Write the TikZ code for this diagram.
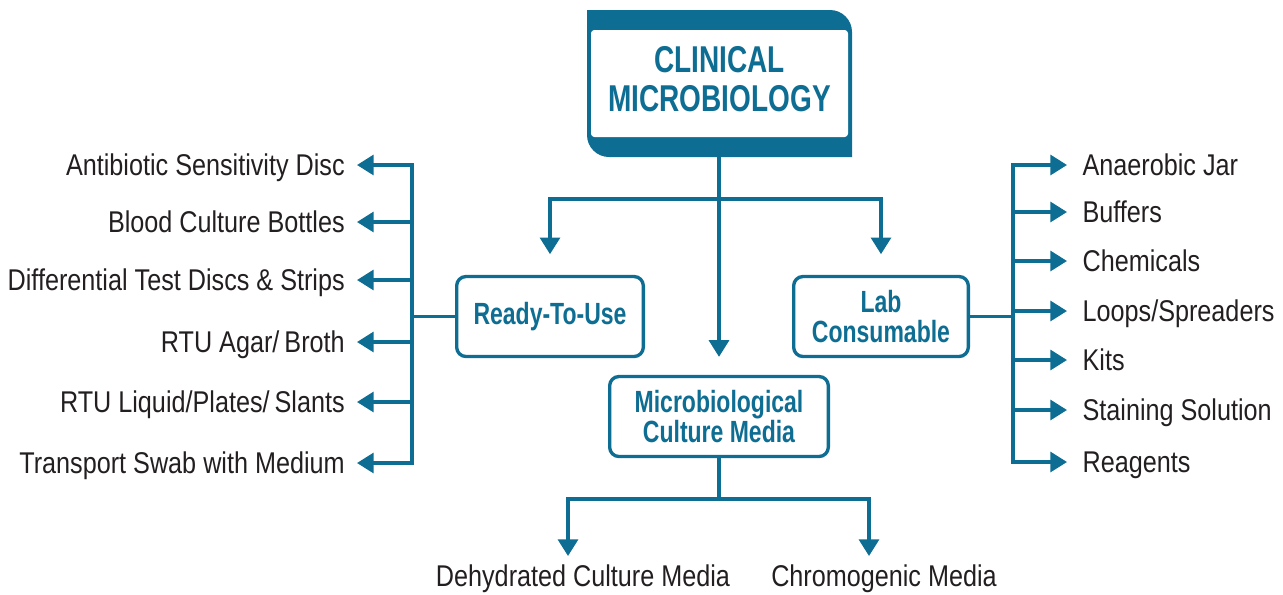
\documentclass[tikz,border=0pt]{standalone}
\usepackage{fontspec}
\setmainfont{Liberation Sans}[FakeStretch=0.84]
\newfontfamily\bcond{Liberation Sans}[FakeStretch=0.75]
\usetikzlibrary{arrows.meta}
\definecolor{cblue}{HTML}{0E6D92}
\definecolor{tgray}{HTML}{231F20}
\begin{document}
\begin{tikzpicture}[x=0.75pt,y=-0.75pt,
  conn/.style={cblue, line width=2.4pt},
  arr/.style={conn, -{Triangle[width=15pt,length=12.5pt]}},
  box/.style={draw=cblue, line width=2.5pt, rounded corners=7pt, fill=white, text=cblue,
    font=\bcond\bfseries\fontsize{23}{22}\selectfont, align=center, minimum height=60pt, inner sep=0pt},
  item/.style={text=tgray, font=\fontsize{22.5}{26}\selectfont, text height=16.1pt, text depth=0pt, inner ysep=0pt},
  litem/.style={item, anchor=east, inner xsep=9pt},
  ritem/.style={item, anchor=west, inner xsep=11.5pt},
  bitem/.style={item, inner ysep=6.75pt, inner xsep=0pt},
  titletext/.style={text=cblue, font=\bcond\bfseries\fontsize{28}{29.25}\selectfont, align=center, inner sep=0pt}
]
\useasboundingbox (0,0) rectangle (1283,594);
% title box
\node[minimum width=198.75pt, minimum height=110.25pt, inner sep=0pt] (top) at (719,83.5) {};
\fill[cblue] (587,10) -- (830,10) arc[start angle=90,end angle=0,radius=16.5pt]
  -- (852,157) -- (609,157) arc[start angle=270,end angle=180,radius=16.5pt] -- cycle;
\fill[white, rounded corners=2.5pt] (591,30) rectangle (848,137);
\node[titletext] (title) at (719.5,79.5) {CLINICAL\\MICROBIOLOGY};
% second level boxes
\node[box, minimum width=140pt] (rtu) at (550,316.5) {Ready-To-Use};
\node[box, minimum width=131pt] (lab) at (881,316.5) {Lab\\Consumable};
\node[box, minimum width=164pt] (micro) at (719,416.5) {Microbiological\\Culture Media};
% top connectors
\coordinate (tj) at (719,199);
\draw[arr, shorten >=13.5pt] (top.south) -- (micro.north);
\draw[arr, shorten >=15.5pt] (tj) -| (rtu.north);
\draw[arr, shorten >=15.5pt] (tj) -| (lab.north);
% left items
\node[litem] (l1) at (357,165) {Antibiotic Sensitivity Disc};
\node[litem] (l2) at (357,222) {Blood Culture Bottles};
\node[litem] (l3) at (357,280) {Differential Test Discs \& Strips};
\node[litem] (l4) at (357,342) {RTU Agar/\,Broth};
\node[litem] (l5) at (357,402) {RTU Liquid/Plates/\,Slants};
\node[litem] (l6) at (357,463) {Transport Swab with Medium};
\coordinate (lb) at (412,316.5);
\draw[conn, line cap=rect] (l1.east -| lb) -- (l6.east -| lb);
\draw[conn] (rtu.west) -- (lb);
\foreach \n in {l1,l2,l3,l4,l5,l6}{\draw[arr] (\n.east -| lb) -- (\n.east);}
% right items
\node[ritem] (r1) at (1067,165) {Anaerobic Jar};
\node[ritem] (r2) at (1067,212) {Buffers};
\node[ritem] (r3) at (1067,261) {Chemicals};
\node[ritem] (r4) at (1067,311) {Loops/Spreaders};
\node[ritem] (r5) at (1067,360) {Kits};
\node[ritem] (r6) at (1067,410) {Staining Solution};
\node[ritem] (r7) at (1067,462) {Reagents};
\coordinate (rb) at (1013,316.5);
\draw[conn, line cap=rect] (r1.west -| rb) -- (r7.west -| rb);
\draw[conn] (lab.east) -- (rb);
\foreach \n in {r1,r2,r3,r4,r5,r6,r7}{\draw[arr] (\n.west -| rb) -- (\n.west);}
% bottom items
\node[bitem] (d1) at (583,576) {Dehydrated Culture Media};
\node[bitem] (d2) at (884,576) {Chromogenic Media};
\coordinate (bj) at (719,499);
\draw[conn] (micro.south) -- (bj);
\draw[arr] (bj) -| ([xshift=-11.25pt]d1.north);
\draw[arr] (bj) -| ([xshift=-11.25pt]d2.north);
\end{tikzpicture}
\end{document}
